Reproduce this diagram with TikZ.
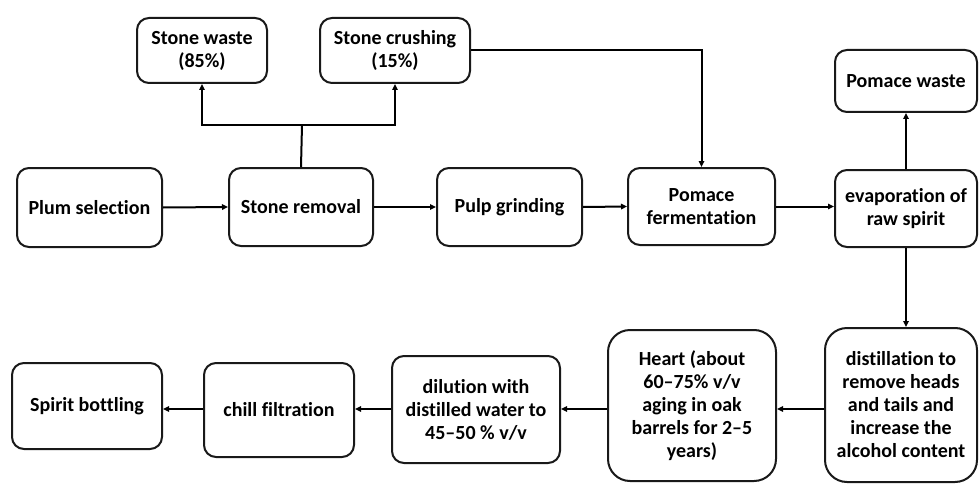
\documentclass[tikz,border=0pt]{standalone}
\usepackage{fontspec}
\setmainfont{Carlito}[Ligatures=NoCommon]
\usetikzlibrary{arrows.meta}
\tikzset{
  box/.style={draw=black!90, line width=2pt, rounded corners=12pt, align=center,
    font=\fontsize{20}{23}\selectfont\bfseries, inner sep=1pt},
  bigbox/.style={box, rounded corners=22pt},
  arr/.style={line width=2pt, -{Triangle[length=6pt,width=5.5pt]}},
  ln/.style={line width=2pt}
}
\begin{document}
\begin{tikzpicture}[x=1pt,y=-1pt]
\useasboundingbox[fill=white] (0,0) rectangle (979,484);
\node[box, minimum width=130pt, minimum height=65pt] (waste) at (202,50.5) {Stone waste\\(85\%)};
\node[box, minimum width=150pt, minimum height=65pt] (crush) at (395,50.5) {Stone crushing\\(15\%)};
\node[box, minimum width=145pt, minimum height=79pt] (plum) at (89.5,207.5) {Plum selection};
\node[box, minimum width=144pt, minimum height=78pt] (removal) at (301,207) {Stone removal};
\node[box, minimum width=145pt, minimum height=78pt] (pulp) at (509.5,207) {Pulp grinding};
\node[box, minimum width=147pt, minimum height=77pt] (ferment) at (701.5,206.5) {Pomace\\fermentation};
\node[box, minimum width=142pt, minimum height=77pt] (evap) at (906,208.5) {evaporation of\\raw spirit};
\node[box, minimum width=142pt, minimum height=62pt] (pwaste) at (906,81) {Pomace waste};
\node[box, minimum width=150pt, minimum height=86pt] (bottling) at (87,406) {Spirit bottling};
\node[box, minimum width=150pt, minimum height=94pt] (chill) at (279,410) {chill filtration};
\node[box, minimum width=168pt, minimum height=107pt] (dilution) at (476,409.5) {dilution with\\distilled water to\\45--50 \% v/v};
\node[bigbox, minimum width=168pt, minimum height=151pt] (heart) at (692,405.5) {Heart (about\\60--75\% v/v\\aging in oak\\barrels for 2--5\\years)};
\node[bigbox, minimum width=152pt, minimum height=154pt] (distill) at (901,405) {distillation to\\remove heads\\and tails and\\increase the\\alcohol content};
\coordinate (j) at (302,125);
\draw[arr] (plum.east) -- (removal.west);
\draw[arr] (removal.east) -- (pulp.west);
\draw[arr] (pulp.east) -- (ferment.west);
\draw[arr] (ferment.east) -- (ferment.east -| evap.west);
\draw[ln] (removal.north) -- (j);
\draw[arr] (j) -| (waste.south);
\draw[arr] (j) -| (crush.south);
\draw[arr] (crush.east) -| (ferment.north);
\draw[arr] (evap.north) -- (pwaste.south);
\draw[arr] (evap.south) -- (evap.south |- distill.north);
\coordinate (r) at (0,409);
\draw[arr] (distill.west |- r) -- (heart.east |- r);
\draw[arr] (heart.west |- r) -- (dilution.east |- r);
\draw[arr] (dilution.west |- r) -- (chill.east |- r);
\draw[arr] (chill.west |- r) -- (bottling.east |- r);
\end{tikzpicture}
\end{document}
